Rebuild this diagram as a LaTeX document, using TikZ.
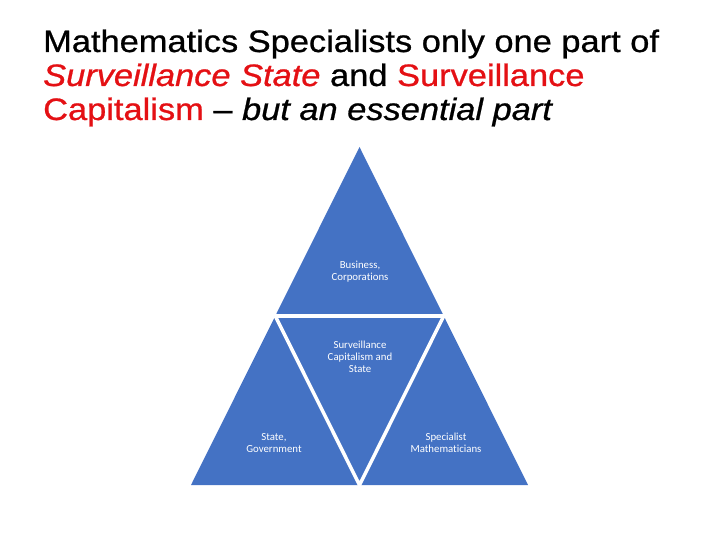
\documentclass[tikz,border=0pt]{standalone}
\usepackage{fontspec}
\setmainfont{Liberation Sans}
\newfontfamily\titlefont{Liberation Sans}[FakeStretch=1.11, FakeBold=0.8]
\newfontfamily\labelfont{Carlito}[Ligatures=NoCommon]
\usepackage{tikz}
\usetikzlibrary{calc}
\definecolor{pyrblue}{RGB}{68,114,196}
\definecolor{titlered}{RGB}{228,16,20}

\begin{document}
\begin{tikzpicture}[x=1pt, y=-1pt,
    lbl/.style={align=center, text=white, font=\labelfont\fontsize{10.8}{12}\selectfont},
    ttl/.style={anchor=base west, inner sep=0, font=\titlefont\fontsize{31}{34}\selectfont},
    gap/.style={draw=white, line width=3.5pt}]
\useasboundingbox (0,0) rectangle (720,540);

% title
\node[ttl] at (43,52) (title1) {Mathematics Specialists only one part of};
\node[ttl] at (43,86) (title2) {\textcolor{titlered}{\itshape Surveillance State} and \textcolor{titlered}{Surveillance}};
\node[ttl] at (43,120) (title3) {\textcolor{titlered}{Capitalism} – \textit{but an essential part}};

% pyramid corners
\coordinate (top) at (359.5,147);
\coordinate (bl) at (191,485);
\coordinate (br) at (528,485);
\coordinate (ml) at ($(top)!0.5!(bl)$);
\coordinate (mr) at ($(top)!0.5!(br)$);
\coordinate (mb) at ($(bl)!0.5!(br)$);

\fill[pyrblue] (top) -- (bl) -- (br) -- cycle;
\path[gap] (ml) -- (mr);
\path[gap] (ml) -- (mb) -- (mr);

\node[lbl] at (360,272) (business) {Business,\\Corporations};
\node[lbl] at (360,357) (center) {Surveillance\\Capitalism and\\State};
\node[lbl] at (274,443) (state) {State,\\Government};
\node[lbl] at (446,443) (maths) {Specialist\\Mathematicians};

\end{tikzpicture}
\end{document}
